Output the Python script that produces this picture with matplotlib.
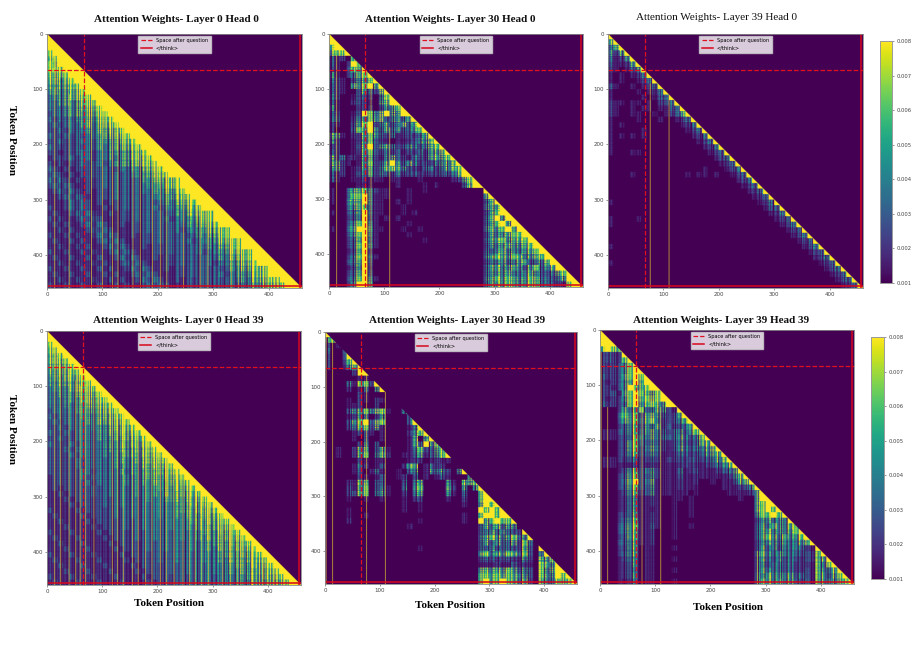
import numpy as np
import matplotlib
matplotlib.use('Agg')
import matplotlib.pyplot as plt
from matplotlib.ticker import FormatStrFormatter

# token count and colour limits
N = 460
VMIN = 0.001
VMAX = 0.008
SPACE_POS = 66
THINK_POS = 456
TICKS = [0, 100, 200, 300, 400]
CBAR_TICKS = [0.001, 0.002, 0.003, 0.004, 0.005, 0.006, 0.007, 0.008]

# weights, one digit per 10x10 tokens, 0 = VMIN and 9 = VMAX
L0H0 = [
  "9", "99", "999", "8999", "78999", "879999", "8889999", "76789999", "665789999", "5556789999",
  "45456789999", "344567789999", "3345456789999", "33344556789999", "233445456789999",
  "3233344556789999", "23233345456789999", "223233344556689999", "3223232344556789999",
  "22322333344456789999", "322223233434556789999", "2212233323344456789999",
  "12223233233434567789999", "212122323323445567789999", "3212122232322334456789999",
  "23212122323232334456789999", "323212122232323234456678999", "2323211222323232334456789999",
  "12323212122232323334455789999", "112323211222323232334456789999",
  "1112323212122232323234456789999", "21123232112122323233234456789999",
  "121123232112122232323234456778999", "2121123232111222323233234456789999",
  "12121123232112122232323334456789999", "112121123232111222323233234456778999",
  "2112121123232112122232323234456789999", "12112121123232111222323233234456778999",
  "112112121123232112122232323334456789999", "2112112121123232111222323233234456778999",
  "12112112121123232112122232323334456789999", "112112112121123232111222323233234456789999",
  "2112112112121123232112122232323234456778999", "12112112112121123232111222323233234456789999",
  "112112112112121123232112122232323334456788999", "2112112112112121123232111222323233234456778999",
]
L30H0 = [
  "9", "99", "899", "7889", "31208", "310298", "2103879", "51025789", "421035689", "3210768959",
  "32100364279", "420013320489", "3100232105799", "51000222025679", "320013984796599",
  "4300255857355479", "21003689246347479", "200048695364534689", "6510226853241232479",
  "52001258321011235679", "220013693564235435689", "3200126832423132425679",
  "62412157214632143257689", "652101582369536423245679", "5520125724786532144246789",
  "31201347243242332222334799", "310011211101100010000012689", "0000011100001000010100003799",
  "10047785" + "21100010010000000000" + "9",
  "10048895" + "11100010000000000000" + "79",
  "10057795" + "11001010000000000000" + "479",
  "00046784" + "11000100000000000000" + "5679",
  "10034694" + "11000101000000000000" + "36899",
  "00023593" + "10101000000000000000" + "479699",
  "00036895" + "10000010000000000000" + "4689799",
  "10047996" + "11000100100000000000" + "57689799",
  "00036895" + "10000010000000000000" + "365678899",
  "00024794" + "10000000010000000000" + "4678677899",
  "00024895" + "10000000000000000000" + "35567657899",
  "00013792" + "00000000000000000000" + "436756467899",
  "00025894" + "10000000000000000000" + "5687687567899",
  "00035793" + "00000000000000000000" + "34564567345799",
  "00013692" + "00000000000000000000" + "467567536845799",
  "00024793" + "00000000000000000000" + "4565754575434689",
  "00035895" + "10000000000000000000" + "56868756875434699",
  "00026996" + "00000000000000000000" + "467687568754321899",
]
L39H0 = [
  "9", "79", "479", "5269", "41269", "311269", "2101369", "10101249", "101001249", "3100101249",
  "10000101249", "100000101349", "2110110102349", "21001011011349", "210011001012479",
  "1000010001001249", "10100000000001249", "100000100000001249", "1010101000000001249",
  "10000000000000001249", "100000000000000001249", "1000110000000000001249",
  "00000000000000000001349", "000000000000000000001249", "0000000000000000010001349",
  "00001000000000101101001249", "000000000000000000000001349", "0000000000000000000000001249",
  "00000000000000000000000001249", "000000000000000000000000001249",
  "1000000000000000000000000001249", "00000000000000000000000000001349",
  "000000000000000000000000000001249", "1000010000000000000000000000001249",
  "10000000000000000000000000000001349", "000000000000000000000000000000001249",
  "0000000000000000000000000000000001349", "00000000000000000000000000000000001249",
  "100000000000000000000000000000000001349", "0000000000000000000000000000000000001249",
  "00000000000000000000000000000000000001349", "100000000000000000000000000000000000001249",
  "0000000000000000000000000000000000000001349", "00000000000000000000000000000000000000001249",
  "000000000000000000000000000000000000000001349", "0000000000000000000000000000000000000000001249",
]
L0H39 = [
  "9", "99", "899", "7899", "67899", "677899", "5667899", "55667899", "455667899", "4455567899",
  "34445667899", "334445567899", "3334445667899", "33343445667899", "233334445567899",
  "3233334445667899", "23233334455667899", "223233334445667899", "3223233334455667899",
  "22322333344455667899", "322232333344455667899", "2223233333444555667899",
  "22223233334344555667899", "222223233333444455667899", "2222232333334344455667899",
  "22222233233334344455667899", "122222323333334344555667899", "1222222323333343444555667899",
  "12122222323333334344555667899", "112122223233333343444555667899",
  "1112122222323333334344555667899", "11112122223233333333434455667899",
  "211112122222323333334344555667899", "1211112122223233333343444555667899",
  "11211112122222323333334344555667899", "111211112122223233333343444555667899",
  "2111211112122222323333334344555667899", "12111211112122223233333343444555667899",
  "112111211112122222323333334344555667899", "1112111211112122223233333343444555667899",
  "21112111211112122222323333334344555667899", "121112111211112122223233333343444555667899",
  "1121112111211112122222323333334344555667899", "11121112111211112122223233333343444555667899",
  "211121112111211112122222323333334344555667899", "1211121112111211112122223233333343444555667899",
]
L30H39 = [
  "9", "58", "201", "3004", "20039", "200289", "2001679", "00000299", "000000110", "0000518829",
  "00002014059", "000000210000", "0000102102100", "00001120020000", "000045684781005",
  "0000125402500004", "00004689378000049", "000034782610000159", "0000012310100002689",
  "00000103001000017059", "000000250300000174958", "0010026703610001582368",
  "00100268047200114713589", "000000210110000122012110", "0000014201300027701422000",
  "00000130141001045015452059", "000000210130012030101310006", "0000217703300030570000510768",
  "00003168034100406800006205059", "000033780451002057000051030089",
  "0000100100100010230000100200" + "899",
  "0000000000000010010000000100" + "7989",
  "0000100000000010010000000000" + "98989",
  "0000100100000000000000000100" + "899899",
  "0000200000000000010000000100" + "9689889",
  "0000000000000001000000000000" + "46574650",
  "0000000000000000000000000000" + "446464329",
  "0000000000000000000000000000" + "5686568459",
  "0000000000000000000000000000" + "46464462840",
  "0000000000000000010000000000" + "435344327309",
  "0000000000000000000000000000" + "7857687483049",
  "0000000000000000000000000000" + "33323321520768",
  "0000000000000000000000000000" + "111211312108759",
  "0000000000000000000000000000" + "7767686353085699",
  "0000000000000000000000000000" + "88787875630865989",
  "0000000000000000000000000000" + "897898747207548789",
]
L39H39 = [
  "9", "99", "999", "8988", "23229", "232289", "2223689", "22236899", "322378989", "2123679799",
  "22136987899", "223178987689", "2122689787899", "32225896787699", "000274683465219",
  "0004868367532379", "00037684684223579", "000245735462323479", "1113457456432453689",
  "11123485464434643579", "000236843532135324679", "0002368346421364354679",
  "00023573353112432335679", "111223422321223233234679", "1111112212111122221234579",
  "00013573452111412311123469", "000246833521113112111112579", "0002579346111121120010113679",
  "00024683351111211100001112359", "000135723511111101000001111279",
  "0001245112" + "100110100000000100" + "799",
  "0001245112" + "100100100000000000" + "7899",
  "0001245111" + "100100100000000000" + "78989",
  "0002346112" + "100100100000000000" + "688989",
  "0002457112" + "100100000000000000" + "3564659",
  "0003568113" + "100100100000000000" + "46576578",
  "0003567112" + "000100000000000000" + "467565689",
  "0002467112" + "000100000000000000" + "4686575689",
  "0003456112" + "000000000000000000" + "35654645679",
  "0002356011" + "000100000000000000" + "364535454219",
  "0002456011" + "000000000000000000" + "5754654433279",
  "0001345011" + "000100000000000000" + "46436343232769",
  "0001235011" + "000000000000000000" + "453453422217489",
  "0001234011" + "000100000000000000" + "4654534223175479",
  "0001235011" + "000000000000000000" + "55756563431763689",
  "0001124011" + "000100000000000000" + "577575643417655789",
]

# single bright columns: (token, first row)
STRIPES_L0H0 = [(14, 100), (40, 110), (80, 120), (100, 130), (118, 150), (128, 160), (155, 190), (168, 190),
                (190, 210), (205, 230), (216, 240), (246, 270), (276, 300), (290, 310), (332, 350), (345, 370), (372, 400)]
STRIPES_L30H0 = [(14, 40), (76, 100), (110, 170)]
STRIPES_L39H0 = [(76, 90), (110, 120)]
STRIPES_L0H39 = [(14, 40), (25, 60), (40, 70), (52, 90), (60, 100), (70, 100), (85, 120), (118, 130), (128, 150),
                 (138, 150), (155, 170), (165, 180), (178, 190), (190, 200), (205, 210), (216, 230), (230, 250),
                 (246, 260), (258, 270), (268, 280), (280, 290), (292, 300), (318, 330), (332, 350), (345, 360),
                 (372, 380), (385, 400), (400, 410)]
STRIPES_L30H39 = [(2, 0), (14, 15), (76, 75), (110, 110)]
STRIPES_L39H39 = [(2, 40), (14, 140), (76, 140), (110, 140), (285, 400)]

# fine texture along columns and rows, one digit per 2 tokens
COL_A = ("73592648173950628417395260481739526483917250648"
         "29517384069251748306295841730692584713069258471"
         "50682947316508294371605892473160582974316805294"
         "61739284057316928450736192845073619482507361984"
         "38427159062843715906824371950628437159082643719")
COL_B = ("91087264095371802649530718264095371082640953718"
         "08264905317082649531708264095317826409531708269"
         "40953170826490531782640953170826490537182640953"
         "17082649053178264095317082640953187264095317082"
         "64905317826409531708264905371826409537108264095")
ROW_A = ("97869958796897596879986579689758969786959876896"
         "58979689769598679887596978986759698797859689795"
         "96879586978965978698579689769859678978695978687"
         "79685978969587698759689786957896878596987695879"
         "86957968798569789658976987859679868795869768978")
ROW_B = ("93817269491827394918273649182739461827394618273"
         "91846273914862739184627391846273918462739146827"
         "39148627391846273918426739184627391486273914862"
         "73918462739146827391486273918462739184627391486"
         "27391846273914862739148627391846273918462739148")

TITLES = ['Attention Weights- Layer 0 Head 0', 'Attention Weights- Layer 30 Head 0', 'Attention Weights- Layer 39 Head 0',
          'Attention Weights- Layer 0 Head 39', 'Attention Weights- Layer 30 Head 39', 'Attention Weights- Layer 39 Head 39']

W, H = 914, 663
SERIF = 'Liberation Serif'


def profile(digits):
  return np.repeat([int(c) / 9 for c in digits], 2)[:N]


def build(rows, stripes, col_prof, row_prof, gain):
  grid = np.array([[int(c) for c in r.ljust(46, r[-1])[:46]] for r in rows], dtype=float)
  d = np.kron(grid, np.ones((10, 10)))
  f = np.outer(0.5 + 0.5 * profile(row_prof), profile(col_prof)) * gain
  # full cells keep their value, the rest break up
  keep = (d / 9) ** 6
  d = np.clip(d * (f * (1 - keep) + keep), 0, 9)
  z = VMIN + d / 9 * (VMAX - VMIN)
  for c, r0 in stripes:
    z[r0:, c:c + 1] = VMAX
  return np.tril(z)


def add_ax(x0, y0, x1, y1):
  return fig.add_axes([x0 / W, 1 - y1 / H, (x1 - x0) / W, (y1 - y0) / H])


fig = plt.figure(figsize=(W / 100, H / 100), dpi=100)

panels = [
  (L0H0, STRIPES_L0H0, COL_A, ROW_A, 1.9, (47, 34, 302, 288)),
  (L30H0, STRIPES_L30H0, COL_B, ROW_B, 1.7, (329, 34, 583, 287)),
  (L39H0, STRIPES_L39H0, COL_A, ROW_B, 1.5, (608, 34, 863, 288)),
  (L0H39, STRIPES_L0H39, COL_A, ROW_A, 1.9, (47, 331, 301, 585)),
  (L30H39, STRIPES_L30H39, COL_B, ROW_B, 1.7, (325, 332, 577, 584)),
  (L39H39, STRIPES_L39H39, COL_B, ROW_A, 1.5, (600, 330, 854, 584)),
]

for rows, stripes, cp, rp, gain, box in panels:
  ax = add_ax(*box)
  im = ax.imshow(build(rows, stripes, cp, rp, gain), cmap='viridis', vmin=VMIN, vmax=VMAX, aspect='auto')
  ax.axvline(SPACE_POS, color='#e0101c', ls='--', lw=0.9, label='Space after question')
  ax.axhline(SPACE_POS, color='#e0101c', ls='--', lw=0.9)
  ax.axvline(THINK_POS, color='#d8061c', lw=1.1, label='</think>')
  ax.axhline(THINK_POS, color='#d8061c', lw=1.1)
  ax.set_xlim(0, N)
  ax.set_ylim(N, 0)
  ax.set_xticks(TICKS)
  ax.set_yticks(TICKS)
  ax.tick_params(labelsize=4.0, length=1.5, width=0.4, pad=1.5, colors='#444444')
  for s in ax.spines.values():
    s.set_color('#888888')
    s.set_linewidth(0.6)
  ax.legend(loc='upper center', fontsize=3.6, framealpha=0.8, borderpad=0.5, handlelength=2.2,
            edgecolor='#cccccc', fancybox=False, bbox_to_anchor=(0.5, 1.0), borderaxespad=0.3)

for box in [(880, 41, 892, 283), (871, 337, 884, 579)]:
  cax = add_ax(*box)
  cb = fig.colorbar(im, cax=cax, ticks=CBAR_TICKS)
  cb.ax.tick_params(labelsize=3.8, length=1.5, width=0.4, pad=1.5, colors='#444444')
  cb.ax.yaxis.set_major_formatter(FormatStrFormatter('%.3f'))
  cb.outline.set_edgecolor('#999999')
  cb.outline.set_linewidth(0.7)

# titles and axis labels sit at their own spots, the panels were pasted together by hand
title_pos = [(176, 20, 'bold'), (450, 20, 'bold'), (716, 18, 'normal'), (178, 320, 'bold'), (457, 320, 'bold'), (721, 320, 'bold')]
for t, (x, y, wt) in zip(TITLES, title_pos):
  fig.text(x / W, 1 - y / H, t, ha='center', va='center', family=SERIF, fontweight=wt, fontsize=8.0, color='#111111')

for x, y in [(169, 603), (450, 605), (728, 607)]:
  fig.text(x / W, 1 - y / H, 'Token Position', ha='center', va='center', family=SERIF, fontweight='bold', fontsize=8.0)
for x, y in [(11, 140), (11, 429)]:
  fig.text(x / W, 1 - y / H, 'Token Position', ha='center', va='center', rotation=270, family=SERIF, fontweight='bold', fontsize=8.0)

fig.savefig('out.png', dpi=100)
